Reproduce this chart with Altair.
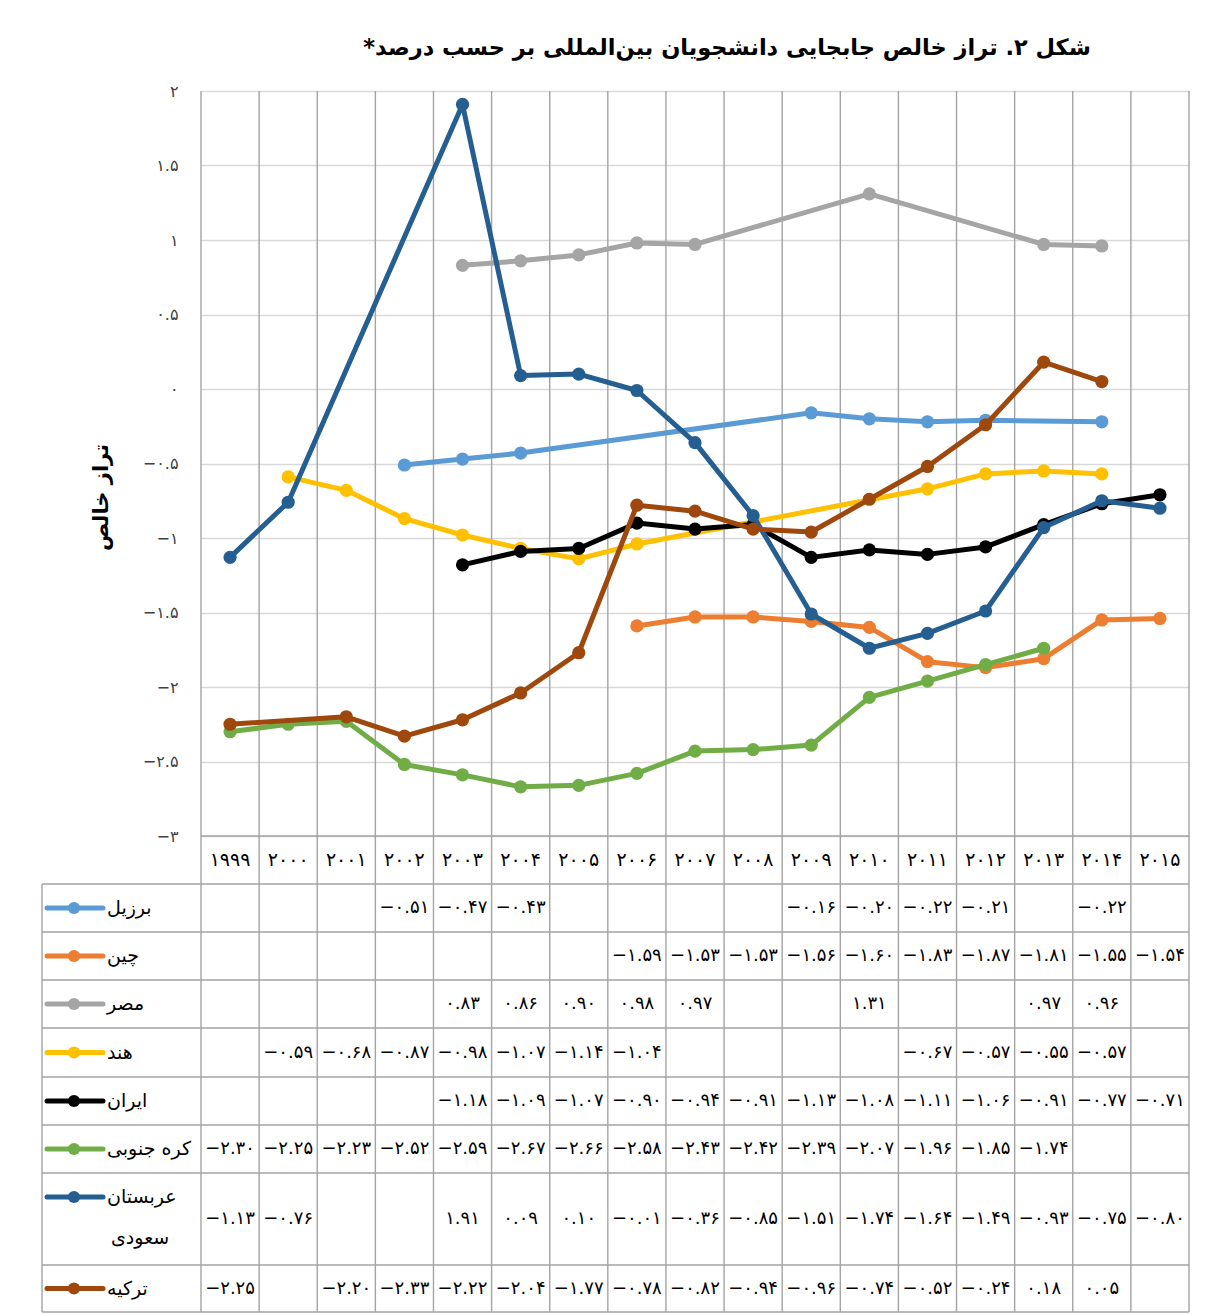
import altair as alt
import pandas as pd

# ---------------- data ----------------
years = list(range(1999, 2016))
series_names = ["برزیل", "چین", "مصر", "هند", "ایران", "کره جنوبی", "عربستان سعودی", "ترکیه"]
series_colors = ["#5B9BD5", "#ED7D31", "#A5A5A5", "#FFC000", "#000000", "#70AD47", "#255E91", "#9E480E"]

brazil = [None, None, None, -0.51, -0.47, -0.43, None, None, None, None, -0.16, -0.20, -0.22, -0.21, None, -0.22, None]
china = [None, None, None, None, None, None, None, -1.59, -1.53, -1.53, -1.56, -1.60, -1.83, -1.87, -1.81, -1.55, -1.54]
egypt = [None, None, None, None, 0.83, 0.86, 0.90, 0.98, 0.97, None, None, 1.31, None, None, 0.97, 0.96, None]
india = [None, -0.59, -0.68, -0.87, -0.98, -1.07, -1.14, -1.04, None, None, None, None, -0.67, -0.57, -0.55, -0.57, None]
iran = [None, None, None, None, -1.18, -1.09, -1.07, -0.90, -0.94, -0.91, -1.13, -1.08, -1.11, -1.06, -0.91, -0.77, -0.71]
korea = [-2.30, -2.25, -2.23, -2.52, -2.59, -2.67, -2.66, -2.58, -2.43, -2.42, -2.39, -2.07, -1.96, -1.85, -1.74, None, None]
saudi = [-1.13, -0.76, None, None, 1.91, 0.09, 0.10, -0.01, -0.36, -0.85, -1.51, -1.74, -1.64, -1.49, -0.93, -0.75, -0.80]
turkey = [-2.25, None, -2.20, -2.33, -2.22, -2.04, -1.77, -0.78, -0.82, -0.94, -0.96, -0.74, -0.52, -0.24, 0.18, 0.05, None]
series_values = [brazil, china, egypt, india, iran, korea, saudi, turkey]

y_ticks = [-3, -2.5, -2, -1.5, -1, -0.5, 0, 0.5, 1, 1.5, 2]

title_text = "شکل ۲. تراز خالص جابجایی دانشجویان بین\u200cالمللی بر حسب درصد*\u200f"
y_title = "تراز خالص"

# ---------------- layout / style ----------------
FONT = "DejaVu Sans"
PLOT_W, PLOT_H = 988, 745
Y_MIN, Y_MAX = -3, 2
N = len(years)
PX_PER_Y = PLOT_H / (Y_MAX - Y_MIN)
PX_PER_X = PLOT_W / N
GRID_LIGHT = "#D9D9D9"
LINE_GRAY = "#A3A3A3"

def yv(px):  # pixel offset from plot top -> y data units
    return Y_MAX - px / PX_PER_Y

def xv(px):  # pixel offset from plot left -> x data units
    return px / PX_PER_X

row_heights = [48, 48, 48, 48, 49, 48, 48, 92, 47]  # year row + 8 series rows
bounds = [PLOT_H]
for h in row_heights:
    bounds.append(bounds[-1] + h)
Y_BOTTOM = yv(bounds[-1])
X_LEFT = xv(-159)

FA = str.maketrans("0123456789-", "۰۱۲۳۴۵۶۷۸۹−")
def fa(s):
    return s.translate(FA)

xscale = alt.Scale(domain=[0, N], nice=False, zero=False)
yscale = alt.Scale(domain=[Y_MIN, Y_MAX], nice=False, zero=False)

label_expr = "datum.label"
for d, p in zip("0123456789", "۰۱۲۳۴۵۶۷۸۹"):
    label_expr = f"replace({label_expr}, regexp('{d}', 'g'), '{p}')"

yaxis = alt.Axis(
    values=y_ticks, format=".1~f", labelExpr=label_expr,
    grid=True, gridColor=GRID_LIGHT, gridWidth=1.5,
    domain=False, ticks=False, labelPadding=23,
    labelFont=FONT, labelFontSize=16, labelColor="#404040",
    title=y_title, titleFont=FONT, titleFontSize=21, titleFontWeight="bold",
    titleColor="#000000", titleX=-100, titleY=406, titleAngle=-90,
    titleAlign="center", titleBaseline="middle",
)

def X(f):
    return alt.X(f"{f}:Q", scale=xscale, axis=None)

def Y(f):
    return alt.Y(f"{f}:Q", scale=yscale, axis=yaxis)

layers = []

# vertical column lines (plot + table)
vdf = pd.DataFrame({"x": list(range(N + 1)), "y": [Y_MAX] * (N + 1), "y2": [Y_BOTTOM] * (N + 1)})
layers.append(alt.Chart(vdf).mark_rule(color=LINE_GRAY, strokeWidth=1.4).encode(
    x=X("x"), y=Y("y"), y2="y2"))

# table horizontal lines
hrows = [{"x": 0, "x2": N, "y": yv(bounds[0])}]
for b in bounds[1:]:
    hrows.append({"x": X_LEFT, "x2": N, "y": yv(b)})
hdf = pd.DataFrame(hrows)
layers.append(alt.Chart(hdf).mark_rule(color=LINE_GRAY, strokeWidth=1.4).encode(
    x=X("x"), x2="x2", y=Y("y")))

# legend column left border
ldf = pd.DataFrame({"x": [X_LEFT], "y": [yv(bounds[1])], "y2": [Y_BOTTOM]})
layers.append(alt.Chart(ldf).mark_rule(color=LINE_GRAY, strokeWidth=1.4).encode(
    x=X("x"), y=Y("y"), y2="y2"))

# series lines + markers
for name, color, vals in zip(series_names, series_colors, series_values):
    d = pd.DataFrame({"x": [i + 0.5 for i, v in enumerate(vals) if v is not None],
                      "y": [v for v in vals if v is not None]})
    layers.append(alt.Chart(d).mark_line(color=color, strokeWidth=5, strokeJoin="round").encode(
        x=X("x"), y=Y("y")))
    layers.append(alt.Chart(d).mark_circle(color=color, size=175, opacity=1).encode(
        x=X("x"), y=Y("y")))

# year row
ydf = pd.DataFrame({"x": [i + 0.5 for i in range(N)],
                    "y": [yv((bounds[0] + bounds[1]) / 2)] * N,
                    "t": [fa(str(yr)) for yr in years]})
layers.append(alt.Chart(ydf).mark_text(font=FONT, fontSize=19, color="#000000", baseline="middle").encode(
    x=X("x"), y=Y("y"), text="t:N"))

# table cells, legend icons and labels
cells = []
icons = []
labels = []
for r, (name, color, vals) in enumerate(zip(series_names, series_colors, series_values)):
    top, bot = bounds[r + 1], bounds[r + 2]
    mid = (top + bot) / 2
    for i, v in enumerate(vals):
        if v is not None:
            cells.append({"x": i + 0.5, "y": yv(mid), "t": fa(f"{v:.2f}")})
    if name == "عربستان سعودی":
        icon_y = top + 24
        labels.append({"x": xv(-94), "y": yv(icon_y), "t": "عربستان"})
        labels.append({"x": xv(-90), "y": yv(icon_y + 41), "t": "سعودی"})
    else:
        icon_y = mid
        labels.append({"x": xv(-94), "y": yv(icon_y), "t": name})
    icons.append({"x": xv(-154), "x2": xv(-98), "xc": xv(-127), "y": yv(icon_y), "c": color})

cdf = pd.DataFrame(cells)
layers.append(alt.Chart(cdf).mark_text(font=FONT, fontSize=18, color="#000000", baseline="middle").encode(
    x=X("x"), y=Y("y"), text="t:N"))

idf = pd.DataFrame(icons)
layers.append(alt.Chart(idf).mark_rule(strokeWidth=5, strokeCap="round").encode(
    x=X("x"), x2="x2", y=Y("y"), color=alt.Color("c:N", scale=None)))
layers.append(alt.Chart(idf).mark_circle(size=150, opacity=1).encode(
    x=X("xc"), y=Y("y"), color=alt.Color("c:N", scale=None)))

tdf = pd.DataFrame(labels)
layers.append(alt.Chart(tdf).mark_text(font=FONT, fontSize=19, color="#000000", align="left", baseline="middle").encode(
    x=X("x"), y=Y("y"), text="t:N"))

chart = alt.layer(*layers).properties(
    width=PLOT_W, height=PLOT_H,
    title=alt.TitleParams(title_text, font=FONT, fontSize=22.5, fontWeight="bold", color="#000000",
                          anchor="middle", dx=32, offset=24),
    padding={"left": 33, "top": 28, "right": 8, "bottom": 0},
).configure_view(strokeWidth=0)

chart.save("out.html", embed_options={"renderer": "svg", "actions": False})
